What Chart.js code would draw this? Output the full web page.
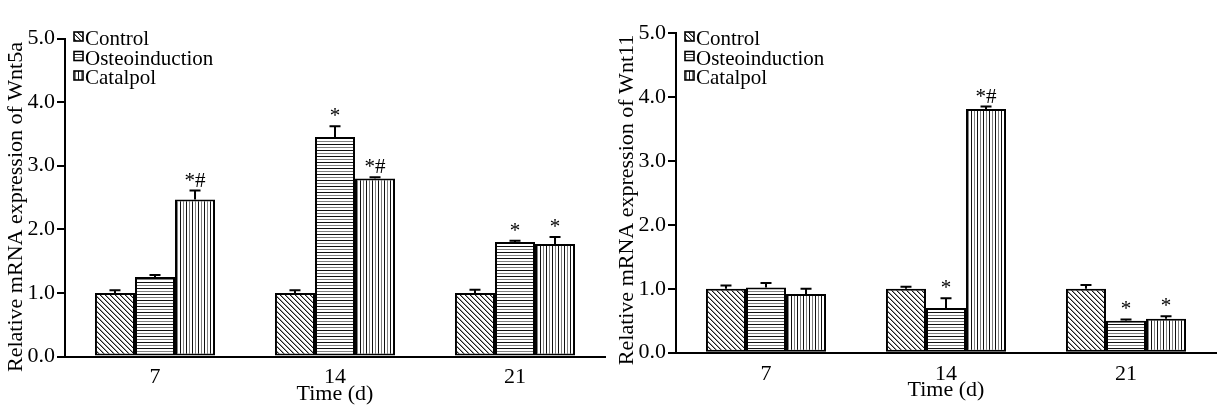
<!DOCTYPE html>
<html>
<head>
<meta charset="utf-8">
<script src="https://cdn.jsdelivr.net/npm/chart.js@4/dist/chart.umd.min.js"></script>
<style>
  html, body { margin:0; padding:0; background:#fff; }
  #wrap { position:relative; width:1223px; height:413px; }
  .panel { position:absolute; top:0; height:413px; }
</style>
</head>
<body>
<div id="wrap">
  <div class="panel" style="left:0;width:611px;"><canvas id="c1" width="611" height="413"></canvas></div>
  <div class="panel" style="left:611px;width:612px;"><canvas id="c2" width="612" height="413"></canvas></div>
</div>
<script>
// ---------- DATA ----------
const categories = ['7', '14', '21'];
const seriesNames = ['Control', 'Osteoinduction', 'Catalpol'];
const yTickValues = [0, 1, 2, 3, 4, 5];

// Wnt5a
const wnt5aControl = [1.00, 1.00, 1.00];
const wnt5aControlErr = [0.04, 0.04, 0.05];
const wnt5aOsteo = [1.25, 3.45, 1.80];
const wnt5aOsteoErr = [0.03, 0.17, 0.02];
const wnt5aCatalpol = [2.47, 2.80, 1.77];
const wnt5aCatalpolErr = [0.14, 0.02, 0.11];
const wnt5aControlSig = ['', '', ''];
const wnt5aOsteoSig = ['', '*', '*'];
const wnt5aCatalpolSig = ['*#', '*#', '*'];

// Wnt11
const wnt11Control = [1.00, 1.00, 1.00];
const wnt11ControlErr = [0.05, 0.03, 0.06];
const wnt11Osteo = [1.02, 0.70, 0.50];
const wnt11OsteoErr = [0.07, 0.15, 0.02];
const wnt11Catalpol = [0.92, 3.81, 0.53];
const wnt11CatalpolErr = [0.08, 0.04, 0.04];
const wnt11ControlSig = ['', '', ''];
const wnt11OsteoSig = ['', '*', '*'];
const wnt11CatalpolSig = ['', '*#', '*'];

const FONT = '"Liberation Serif", "Times New Roman", Times, serif';

// ---------- PATTERNS ----------
function makePattern(type) {
  const c = document.createElement('canvas');
  const x = c.getContext('2d');
  if (type === 'diag') {
    c.width = 5; c.height = 5;
    x.fillStyle = '#fff'; x.fillRect(0, 0, 5, 5);
    for (let i = 0; i < 5; i++) {
      x.fillStyle = '#1a1a1a'; x.fillRect(i, i, 1, 1);
      x.fillStyle = '#9a9a9a'; x.fillRect((i + 1) % 5, i, 1, 1);
    }
  } else if (type === 'h') {
    c.width = 4; c.height = 6;
    x.fillStyle = '#fff'; x.fillRect(0, 0, 4, 6);
    x.fillStyle = '#111'; x.fillRect(0, 0, 4, 1);
    x.fillStyle = '#808080'; x.fillRect(0, 3, 4, 1);
  } else {
    c.width = 6; c.height = 4;
    x.fillStyle = '#fff'; x.fillRect(0, 0, 6, 4);
    x.fillStyle = '#111'; x.fillRect(0, 0, 1, 4);
    x.fillStyle = '#808080'; x.fillRect(3, 0, 1, 4);
  }
  return x.createPattern(c, 'repeat');
}
const tmpCtx = document.createElement('canvas').getContext('2d');
const patterns = [makePattern('diag'), makePattern('h'), makePattern('v')];

// ---------- PLUGIN: error bars, significance marks, legend, axis titles ----------
const extrasPlugin = {
  id: 'extras',
  afterDatasetsDraw(chart) {
    const ctx = chart.ctx;
    const y = chart.scales.y;
    const cfg = chart.options.plugins.extras;
    ctx.save();
    chart.data.datasets.forEach((ds, i) => {
      const meta = chart.getDatasetMeta(i);
      meta.data.forEach((el, j) => {
        const v = ds.data[j];
        const top = y.getPixelForValue(v + ds.errors[j]);
        ctx.strokeStyle = '#000';
        ctx.lineWidth = 2;
        ctx.beginPath();
        ctx.moveTo(el.x, el.y);
        ctx.lineTo(el.x, top);
        ctx.moveTo(el.x - 5.5, top);
        ctx.lineTo(el.x + 5.5, top);
        ctx.stroke();
        const s = ds.sig[j];
        if (s) {
          ctx.fillStyle = '#000';
          ctx.font = '21px ' + FONT;
          ctx.textAlign = 'center';
          ctx.textBaseline = 'alphabetic';
          ctx.fillText(s, el.x, top - 4);
        }
      });
    });
    ctx.restore();
  },
  afterDraw(chart) {
    const ctx = chart.ctx;
    const cfg = chart.options.plugins.extras;
    const ca = chart.chartArea;
    ctx.save();
    // legend
    ctx.font = '21px ' + FONT;
    ctx.textBaseline = 'alphabetic';
    ctx.textAlign = 'left';
    seriesNames.forEach((name, i) => {
      const base = 45 + i * 19.5;
      const bx = ca.left + 9, by = base - 13;
      ctx.fillStyle = patterns[i];
      ctx.fillRect(bx, by, 9, 9);
      ctx.strokeStyle = '#000';
      ctx.lineWidth = 1.6;
      ctx.strokeRect(bx, by, 9, 9);
      ctx.fillStyle = '#000';
      ctx.fillText(name, bx + 11, base);
    });
    // y title
    ctx.font = '22px ' + FONT;
    ctx.textAlign = 'center';
    ctx.textBaseline = 'middle';
    ctx.save();
    ctx.translate(cfg.yTitleX, cfg.yTitleY);
    ctx.rotate(-Math.PI / 2);
    ctx.fillText(cfg.yTitle, 0, 0);
    ctx.restore();
    // x title
    ctx.fillText('Time (d)', (ca.left + ca.right) / 2, ca.bottom + cfg.xTitleOffset);
    ctx.restore();
  }
};

function buildChart(canvasId, series, errs, sigs, opts) {
  const datasets = series.map((d, i) => ({
    label: seriesNames[i],
    data: d,
    errors: errs[i],
    sig: sigs[i],
    backgroundColor: patterns[i],
    borderColor: '#000',
    borderWidth: 2,
    borderSkipped: false,
    categoryPercentage: 0.667,
    barPercentage: 1.0
  }));
  return new Chart(document.getElementById(canvasId), {
    type: 'bar',
    data: { labels: categories, datasets },
    plugins: [extrasPlugin],
    options: {
      responsive: false,
      animation: false,
      devicePixelRatio: 1,
      layout: { padding: { top: opts.top, right: opts.right, left: 0, bottom: 0 } },
      plugins: {
        legend: { display: false },
        tooltip: { enabled: false },
        extras: opts
      },
      scales: {
        x: {
          grid: { display: false, drawTicks: false },
          border: { display: true, color: '#000', width: 2 },
          ticks: { color: '#000', font: { family: FONT, size: 22 }, padding: 8 },
          afterFit(s) { s.height = opts.xHeight; }
        },
        y: {
          min: 0, max: 5,
          afterBuildTicks(s) { s.ticks = yTickValues.map(v => ({ value: v })); },
          grid: { display: true, drawOnChartArea: false, drawTicks: true, tickLength: 8, color: '#000', lineWidth: 2 },
          border: { display: true, color: '#000', width: 2 },
          ticks: { color: '#000', font: { family: FONT, size: 22 }, padding: 2, callback: v => Number(v).toFixed(1) },
          afterFit(s) { s.width = 65; }
        }
      }
    }
  });
}

buildChart('c1',
  [wnt5aControl, wnt5aOsteo, wnt5aCatalpol],
  [wnt5aControlErr, wnt5aOsteoErr, wnt5aCatalpolErr],
  [wnt5aControlSig, wnt5aOsteoSig, wnt5aCatalpolSig],
  { top: 38.5, right: 6, xHeight: 56.5, yTitle: 'Relative mRNA expression of Wnt5a', yTitleX: 16, yTitleY: 207, xTitleOffset: 38 });

buildChart('c2',
  [wnt11Control, wnt11Osteo, wnt11Catalpol],
  [wnt11ControlErr, wnt11OsteoErr, wnt11CatalpolErr],
  [wnt11ControlSig, wnt11OsteoSig, wnt11CatalpolSig],
  { top: 33, right: 7, xHeight: 60.3, yTitle: 'Relative mRNA expression of Wnt11', yTitleX: 16, yTitleY: 200, xTitleOffset: 38 });
</script>
</body>
</html>
